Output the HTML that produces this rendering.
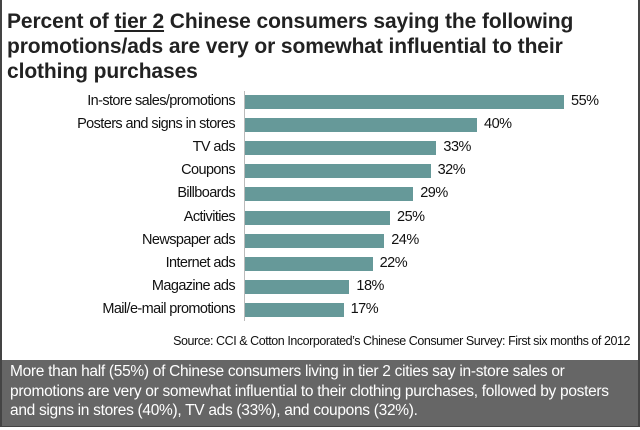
<!DOCTYPE html>
<html><head><meta charset="utf-8"><style>
body{margin:0;width:640px;height:430px;background:#fff;font-family:"Liberation Sans",Arial,sans-serif;overflow:hidden;position:relative}
.frame{position:absolute;left:0;top:0;width:636px;height:425px;border:2px solid #444;border-top:none}
.title{position:absolute;left:7px;top:9px;width:628px;font-weight:bold;font-size:21px;line-height:25px;color:#222;letter-spacing:-0.1px}
.lab{position:absolute;right:405px;font-size:14.5px;letter-spacing:-0.6px;color:#111;text-align:right;white-space:nowrap}
.bar{position:absolute;left:245px;height:14px;background:#669999}
.val{position:absolute;font-size:14.5px;letter-spacing:-0.5px;color:#111}
.axis{position:absolute;left:244px;top:91px;width:1px;height:230px;background:#bbb}
.src{position:absolute;right:10px;top:334px;font-size:12.5px;letter-spacing:-0.45px;color:#111}
.box{position:absolute;left:2px;top:360px;width:636px;height:66px;background:#666;color:#fff;font-size:15.5px;letter-spacing:-0.3px;line-height:19.5px;padding:2px 0 0 8px;box-sizing:border-box}
</style></head><body>
<div class="frame"></div>
<div class="title">Percent of <u>tier 2</u> Chinese consumers saying the following promotions/ads are very or somewhat influential to their clothing purchases</div>
<div class="axis"></div>
<div id="c"></div>
<div class="src">Source: CCI &amp; Cotton Incorporated’s Chinese Consumer Survey: First six months of 2012</div>
<div class="box">More than half (55%) of Chinese consumers living in tier 2 cities say in-store sales or<br>promotions are very or somewhat influential to their clothing purchases, followed by posters<br>and signs in stores (40%), TV ads (33%), and coupons (32%).</div>
<script>
var d=[["In-store sales/promotions",55],["Posters and signs in stores",40],["TV ads",33],["Coupons",32],["Billboards",29],["Activities",25],["Newspaper ads",24],["Internet ads",22],["Magazine ads",18],["Mail/e-mail promotions",17]];
var h="";d.forEach(function(r,i){var c=102+23.1*i,w=r[1]*5.8;
h+='<div class="lab" style="top:'+(c-9)+'px">'+r[0]+'</div><div class="bar" style="top:'+(c-7)+'px;width:'+w+'px"></div><div class="val" style="top:'+(c-9)+'px;left:'+(245+w+7)+'px">'+r[1]+'%</div>';});
document.getElementById("c").innerHTML=h;
</script>
</body></html>
